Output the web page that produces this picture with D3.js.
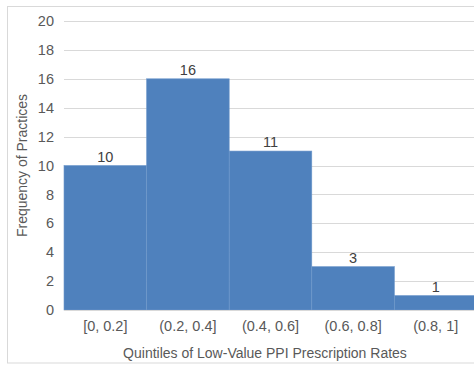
<!DOCTYPE html>
<html><head><meta charset="utf-8">
<script src="https://cdn.jsdelivr.net/npm/d3@7"></script>
<style>body{margin:0;background:#fff;}svg{display:block;font-family:Arial,"Liberation Sans",sans-serif;}</style>
</head><body>
<svg id="c" width="474" height="369"></svg>
<script>
const categories = ["[0, 0.2]", "(0.2, 0.4]", "(0.4, 0.6]", "(0.6, 0.8]", "(0.8, 1]"];
const values = [10, 16, 11, 3, 1];
const yTicks = [0, 2, 4, 6, 8, 10, 12, 14, 16, 18, 20];

(function () {
const svg = d3.select("#c");
svg.append("rect").attr("x", 7.5).attr("y", 6.5).attr("width", 480).attr("height", 356.5)
  .attr("fill", "#fff").attr("stroke", "#d9d9d9");

const mL = 64, mR = 477, mT = 21, mB = 310;
const x = d3.scaleBand().domain(categories).range([mL, mR]).padding(0);
const y = d3.scaleLinear().domain([0, 20]).range([mB, mT]);

svg.append("g").selectAll("line").data(yTicks.slice(1)).join("line")
  .attr("x1", mL).attr("x2", 474).attr("y1", d => Math.round(y(d)) + 0.5).attr("y2", d => Math.round(y(d)) + 0.5)
  .attr("stroke", "#d9d9d9").attr("stroke-width", 1.2);

svg.append("g").selectAll("rect").data(values).join("rect")
  .attr("x", (d, i) => x(categories[i])).attr("width", x.bandwidth())
  .attr("y", d => y(d)).attr("height", d => mB - y(d))
  .attr("fill", "#4f81bd").attr("stroke", "#6f98cb").attr("stroke-width", 0.6);

svg.append("line").attr("x1", mL).attr("x2", 474).attr("y1", mB + 0.5).attr("y2", mB + 0.5)
  .attr("stroke", "#d9d9d9");

svg.append("g").selectAll("text").data(values).join("text")
  .attr("x", (d, i) => x(categories[i]) + x.bandwidth() / 2).attr("y", d => y(d) - 4)
  .attr("text-anchor", "middle").attr("font-size", 14.5).attr("fill", "#404040").text(d => d);

const yAxis = d3.axisLeft(y).tickValues(yTicks).tickSize(0).tickPadding(10);
const gy = svg.append("g").attr("transform", `translate(${mL},0)`).call(yAxis);
gy.select(".domain").remove();
gy.selectAll("text").attr("font-size", 14.5).attr("fill", "#595959").attr("font-family", "Arial,'Liberation Sans',sans-serif");

const xAxis = d3.axisBottom(x).tickSize(0).tickPadding(11);
const gx = svg.append("g").attr("transform", `translate(0,${mB})`).call(xAxis);
gx.select(".domain").remove();
gx.selectAll("text").attr("font-size", 14.5).attr("fill", "#595959").attr("font-family", "Arial,'Liberation Sans',sans-serif");

svg.append("text").attr("transform", `translate(27,${(mT + mB) / 2}) rotate(-90)`)
  .attr("text-anchor", "middle").attr("font-size", 14).attr("fill", "#595959").text("Frequency of Practices");
svg.append("text").attr("x", 265).attr("y", 358).attr("text-anchor", "middle")
  .attr("font-size", 14).attr("fill", "#595959").text("Quintiles of Low-Value PPI Prescription Rates");
})();
</script>
</body></html>
